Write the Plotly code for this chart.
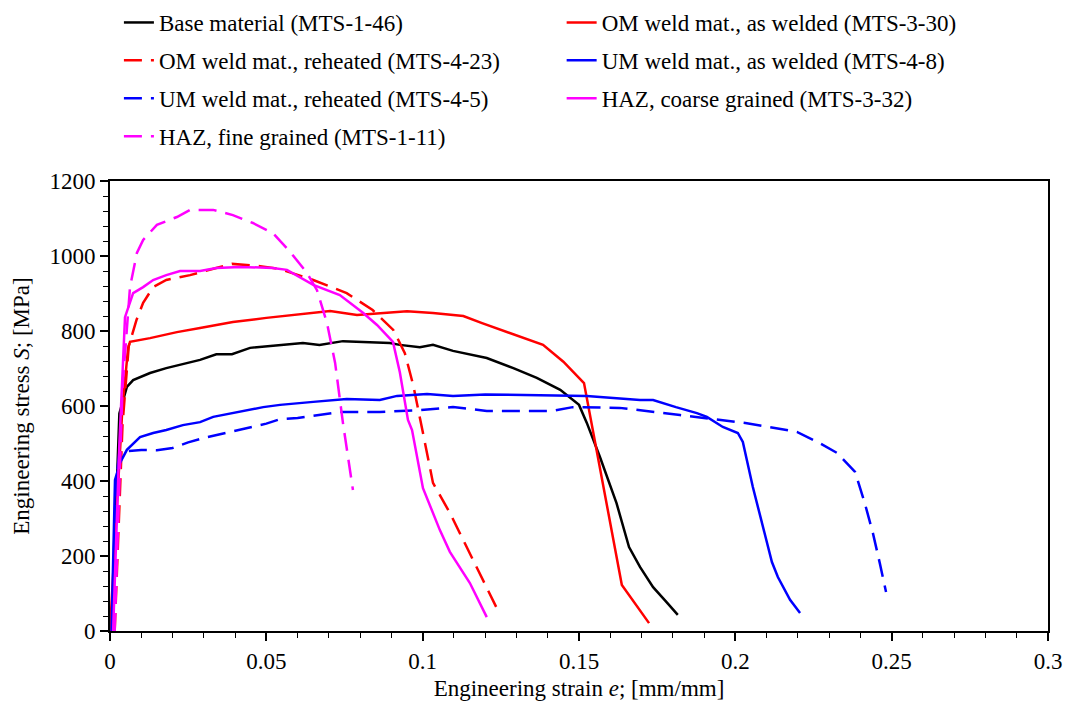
import plotly.graph_objects as go

# ---- data (engineering strain [mm/mm], engineering stress [MPa]) ----
base_e = [0, 0.0005, 0.003, 0.0054, 0.0074, 0.0128, 0.018, 0.0288, 0.034, 0.039, 0.0448, 0.0553, 0.0617,
          0.067, 0.0745, 0.0895, 0.0927, 0.0991, 0.1033, 0.1097, 0.1205, 0.129, 0.1365, 0.144, 0.150,
          0.1525, 0.1567, 0.162, 0.166, 0.1695, 0.1737, 0.178, 0.1816]
base_S = [0, 0, 580, 651, 669, 688, 701, 723, 738, 738, 755, 763, 768,
          763, 773, 768, 763, 757, 763, 747, 728, 701, 675, 643, 603,
          555, 464, 341, 224, 171, 117, 77, 43]

om_aw_e = [0, 0.004, 0.0058, 0.0064, 0.0128, 0.0214, 0.0288, 0.0393, 0.050, 0.0608, 0.0704, 0.079,
           0.095, 0.1033, 0.113, 0.119, 0.128, 0.1385, 0.145, 0.1516, 0.1637, 0.1724]
om_aw_S = [0, 600, 755, 771, 781, 797, 808, 824, 835, 845, 853, 843,
           853, 848, 840, 821, 794, 763, 718, 661, 123, 21]

om_rh_e = [0.0015, 0.004, 0.006, 0.0085, 0.0106, 0.0138, 0.018, 0.0256, 0.034, 0.039, 0.048, 0.0544,
           0.065, 0.0757, 0.084, 0.0906, 0.0943, 0.097, 0.1001, 0.1033, 0.1087, 0.1151, 0.1205, 0.1237]
om_rh_S = [0, 550, 760, 830, 875, 917, 936, 949, 968, 979, 973, 965,
           936, 901, 856, 803, 741, 655, 528, 395, 315, 208, 117, 61]

um_aw_e = [0.0005, 0.0016, 0.0032, 0.0054, 0.0096, 0.0138, 0.018, 0.0233, 0.0288, 0.033, 0.049, 0.0544,
           0.065, 0.0757, 0.0863, 0.0918, 0.1014, 0.1097, 0.12, 0.131, 0.1525, 0.1695, 0.1737, 0.181,
           0.1877, 0.1909, 0.196, 0.2008, 0.2024, 0.2056, 0.2088, 0.2117, 0.2136, 0.2175, 0.2207]
um_aw_S = [0, 403, 448, 483, 517, 528, 536, 549, 557, 571, 597, 603,
           611, 619, 616, 627, 632, 627, 631, 629, 627, 616, 616, 597,
           581, 571, 544, 528, 504, 384, 277, 184, 144, 83, 48]

um_rh_e = [0.0008, 0.0012, 0.002, 0.003, 0.01, 0.015, 0.02, 0.025, 0.03, 0.04, 0.05, 0.0544, 0.06,
           0.0735, 0.0863, 0.0991, 0.1097, 0.1205, 0.1417, 0.148, 0.163, 0.1823, 0.2037, 0.2197,
           0.227, 0.2325, 0.2383, 0.2414, 0.244, 0.2462, 0.2482]
um_rh_S = [0, 200, 400, 478, 483, 482, 488, 503, 515, 535, 553, 565, 568,
           584, 584, 589, 597, 587, 587, 597, 595, 576, 554, 531,
           501, 475, 424, 341, 261, 181, 104]

haz_cg_e = [0.001, 0.003, 0.0048, 0.0074, 0.0106, 0.0138, 0.018, 0.0224, 0.0288, 0.034, 0.0416, 0.052,
            0.0566, 0.0608, 0.065, 0.0735, 0.081, 0.0854, 0.0905, 0.0927, 0.0953, 0.0966, 0.1001,
            0.1055, 0.1087, 0.1151, 0.1205]
haz_cg_S = [0, 500, 837, 901, 917, 936, 949, 960, 960, 968, 971, 968,
            963, 944, 923, 896, 848, 816, 771, 690, 563, 536, 381,
            269, 211, 128, 37]

haz_fg_e = [0.0015, 0.004, 0.0064, 0.0086, 0.0106, 0.015, 0.0214, 0.0256, 0.033, 0.0393, 0.0457,
            0.0521, 0.0576, 0.063, 0.0662, 0.0694, 0.072, 0.0745, 0.0777]
haz_fg_S = [0, 650, 917, 1008, 1043, 1083, 1104, 1123, 1123, 1109, 1088,
            1061, 1011, 955, 909, 821, 715, 555, 376]

x_ticks = [0, 0.05, 0.1, 0.15, 0.2, 0.25, 0.3]
x_tick_text = ["0", "0.05", "0.1", "0.15", "0.2", "0.25", "0.3"]
y_ticks = [0, 200, 400, 600, 800, 1000, 1200]

FONT = "Liberation Serif, Times New Roman, serif"
FS = 23
DASH = "18px,9px"

series = [
    ("Base material (MTS-1-46)", base_e, base_S, "#000000", "solid", "legend"),
    ("OM weld mat., as welded (MTS-3-30)", om_aw_e, om_aw_S, "#FF0000", "solid", "legend2"),
    ("OM weld mat., reheated (MTS-4-23)", om_rh_e, om_rh_S, "#FF0000", DASH, "legend"),
    ("UM weld mat., as welded (MTS-4-8)", um_aw_e, um_aw_S, "#0000FF", "solid", "legend2"),
    ("UM weld mat., reheated (MTS-4-5)", um_rh_e, um_rh_S, "#0000FF", DASH, "legend"),
    ("HAZ, coarse grained (MTS-3-32)", haz_cg_e, haz_cg_S, "#FF00FF", "solid", "legend2"),
    ("HAZ, fine grained (MTS-1-11)", haz_fg_e, haz_fg_S, "#FF00FF", DASH, "legend"),
]

fig = go.Figure()
for i, (name, xs, ys, col, dash, lg) in enumerate(series):
    fig.add_trace(go.Scatter(x=xs, y=ys, mode="lines", name=name,
                             line=dict(color=col, width=2.5, dash=dash),
                             legend=lg, legendgroup=f"g{i}"))

legend_common = dict(font=dict(family=FONT, size=FS, color="#000"), bgcolor="rgba(0,0,0,0)",
                     tracegroupgap=5, traceorder="grouped", xanchor="left", yanchor="top",
                     itemwidth=30)

fig.update_layout(
    width=1068, height=706,
    margin=dict(l=110, r=20, t=181, b=75, autoexpand=False),
    paper_bgcolor="white", plot_bgcolor="white",
    font=dict(family=FONT, size=FS, color="#000"),
    showlegend=True,
    legend=dict(x=0.0095, y=1.40, **legend_common),
    legend2=dict(x=0.4815, y=1.40, **legend_common),
    xaxis=dict(range=[0, 0.3], tickvals=x_ticks, ticktext=x_tick_text,
               ticks="outside", ticklen=8, tickwidth=1.5, tickcolor="#000",
               minor=dict(dtick=0.01, ticks="outside", ticklen=5, tickwidth=1.2, tickcolor="#000"),
               showline=True, linecolor="#000", linewidth=2, mirror=True,
               showgrid=False, zeroline=False,
               tickfont=dict(family=FONT, size=FS),
               title=dict(text="Engineering strain <i>e</i>; [mm/mm]", font=dict(family=FONT, size=FS), standoff=7)),
    yaxis=dict(range=[0, 1200], tickvals=y_ticks,
               ticks="outside", ticklen=8, tickwidth=1.5, tickcolor="#000",
               minor=dict(dtick=40, ticks="outside", ticklen=5, tickwidth=1.2, tickcolor="#000"),
               showline=True, linecolor="#000", linewidth=2, mirror=True,
               showgrid=False, zeroline=False,
               tickfont=dict(family=FONT, size=FS),
               title=dict(text="Engineering stress <i>S</i>; [MPa]", font=dict(family=FONT, size=FS), standoff=13)),
)

fig.write_html("out.html")
